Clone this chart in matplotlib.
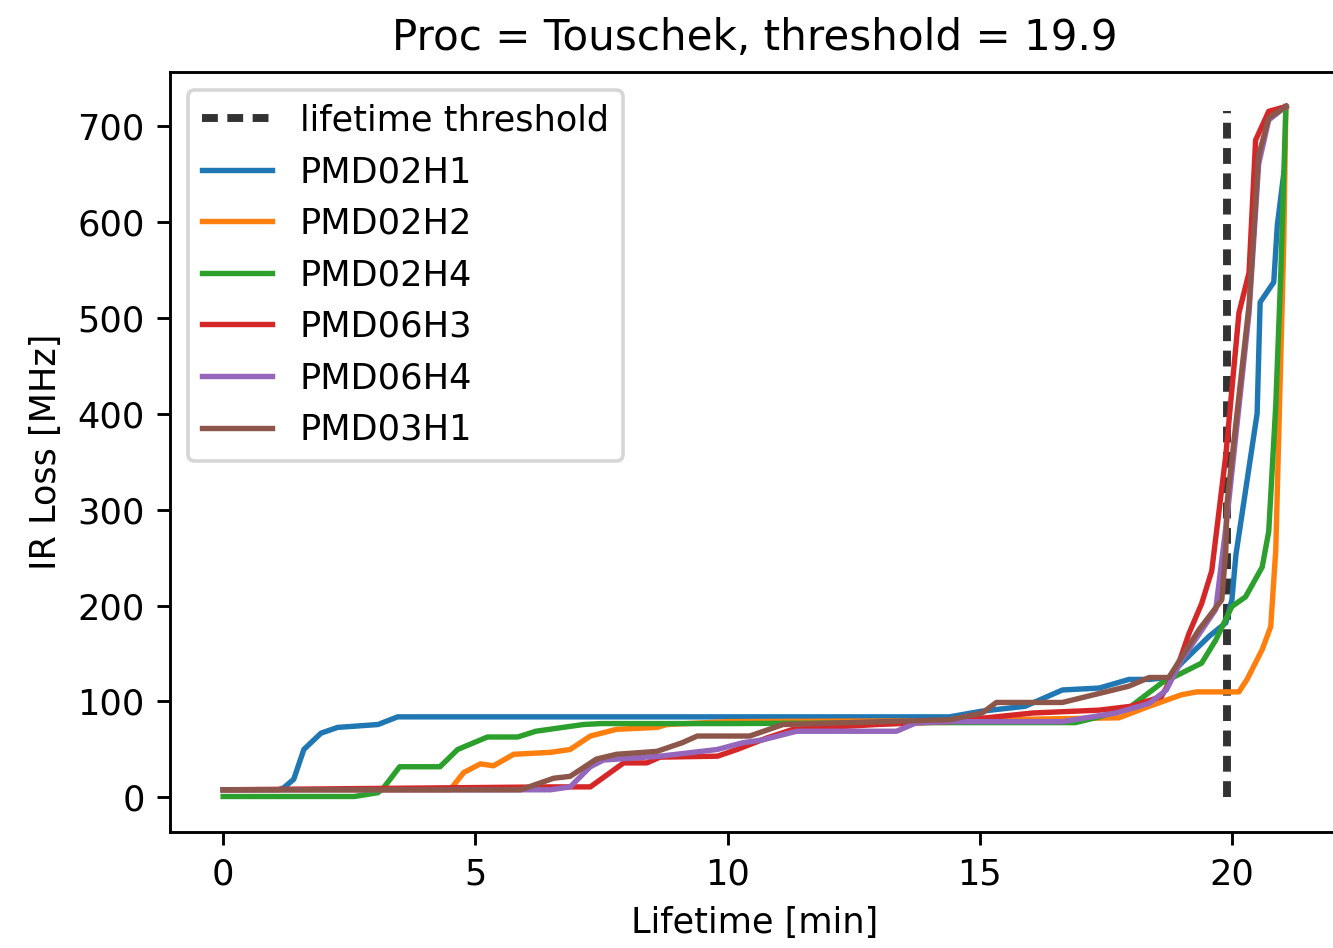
import matplotlib
matplotlib.use("Agg")
import matplotlib.pyplot as plt

threshold = 19.9
title = "Proc = Touschek, threshold = 19.9"

# lifetime [min] and IR loss [MHz] for each sensor
x_h1 = [0, 1.1, 1.2, 1.4, 1.6, 1.8, 1.94, 2.27, 3.07, 3.46, 5, 10, 14.4, 15.05, 15.9, 16.64,
        17.37, 17.96, 18.36, 18.75, 19.0, 19.55, 19.88, 20.0, 20.08, 20.5, 20.56, 20.83, 20.9, 21.03]
y_h1 = [8, 8, 10, 19, 50, 60, 67, 73, 76, 84, 84, 84, 84, 90, 95, 112,
        114, 123, 123, 125, 140, 168, 182, 206, 253, 400, 516, 537, 596, 651]

x_h2 = [0, 4.5, 4.77, 5.1, 5.36, 5.76, 6.49, 6.88, 7.28, 7.8, 8.6, 8.8, 10, 14.4, 16.5,
        17.76, 18.36, 19.0, 19.3, 20.14, 20.3, 20.6, 20.77, 20.87, 20.95, 21.03, 21.07]
y_h2 = [8, 8, 26, 35, 33, 45, 47, 50, 64, 71, 73, 76, 79, 80, 82,
        83, 95, 107, 110, 110, 123, 154, 178, 258, 420, 581, 720]

x_h4 = [0, 2.6, 3.07, 3.18, 3.5, 4.3, 4.65, 5.24, 5.84, 6.2, 7.14, 7.5, 10, 14.4, 16.9,
        17.37, 18.0, 18.6, 19.4, 19.68, 20.0, 20.27, 20.6, 20.73, 20.87, 20.97, 21.07]
y_h4 = [1, 1, 5, 10, 32, 32, 50, 63, 63, 69, 76, 77, 77, 78, 78,
        84, 95, 119, 140, 164, 199, 209, 240, 277, 409, 547, 720]

x_63 = [0, 6.49, 7.28, 7.94, 8.4, 8.66, 9.8, 10.19, 10.78, 11.3, 12.96, 14.4, 16.05, 17.37,
        18.0, 18.6, 18.9, 19.15, 19.4, 19.6, 19.88, 20.14, 20.34, 20.47, 20.73, 21.07]
y_63 = [8, 11, 11, 36, 36, 42, 43, 50, 62, 71, 76, 79, 88, 91,
        95, 105, 133, 171, 202, 236, 357, 505, 547, 685, 715, 720]

x_64 = [0, 6.49, 6.88, 7.28, 7.54, 8.66, 9.8, 10.3, 10.7, 11.37, 13.35, 13.75, 14.4, 16.64,
        17.7, 18.36, 18.7, 19.0, 19.68, 19.9, 20.34, 20.53, 20.73, 21.07]
y_64 = [8, 8, 11, 32, 39, 43, 50, 57, 60, 69, 69, 78, 79, 79,
        88, 98, 112, 143, 196, 290, 505, 660, 706, 720]

x_31 = [0, 5.9, 6.55, 6.88, 7.4, 7.8, 8.6, 9.1, 9.4, 10.44, 11.1, 14.4, 15.05, 15.33, 16.64,
        17.96, 18.36, 18.75, 19.35, 19.8, 19.88, 19.9, 20.34, 20.53, 20.73, 21.07]
y_31 = [8, 8, 20, 22, 40, 45, 48, 57, 64, 64, 76, 81, 88, 99, 99,
        116, 125, 125, 175, 206, 258, 305, 513, 669, 708, 720]

series = [("PMD02H1", x_h1, y_h1), ("PMD02H2", x_h2, y_h2), ("PMD02H4", x_h4, y_h4),
          ("PMD06H3", x_63, y_63), ("PMD06H4", x_64, y_64), ("PMD03H1", x_31, y_31)]

plt.rcParams["font.size"] = 9.75

fig = plt.figure(figsize=(1333 / 259, 948 / 259), dpi=259)
ax = fig.add_axes([170 / 1333, 116 / 948, 1169 / 1333, 760 / 948])

ax.plot([threshold, threshold], [0, 715], color="#333333", lw=2.2, dashes=(2, 1.2),
        label="lifetime threshold")
for name, xs, ys in series:
    ax.plot(xs, ys, lw=1.5, label=name)

ax.set_xticks([0, 5, 10, 15, 20])
ax.set_yticks([0, 100, 200, 300, 400, 500, 600, 700])
ax.set_xlabel("Lifetime [min]")
ax.set_ylabel("IR Loss [MHz]")
ax.set_title(title)
ax.legend(loc="upper left")

fig.savefig("out.png", dpi=259)
